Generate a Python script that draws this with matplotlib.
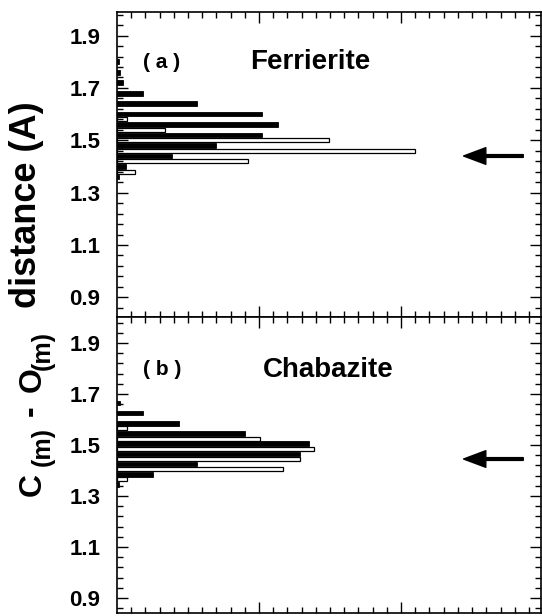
import numpy as np
import matplotlib
matplotlib.use("Agg")
import matplotlib.pyplot as plt

plt.rcParams['font.family'] = ['Liberation Sans', 'DejaVu Sans']
plt.rcParams['font.weight'] = 'bold'

# (a) Ferrierite: bin centres (A) and bar lengths
ferr_black_y = [1.80, 1.76, 1.72, 1.68, 1.64, 1.60, 1.56, 1.52, 1.48, 1.44, 1.40, 1.36]
ferr_black_x = [0.15, 0.2, 0.4, 1.8, 5.6, 10.2, 11.3, 10.2, 7.0, 3.9, 0.6, 0.15]
ferr_white_y = [1.58, 1.54, 1.50, 1.46, 1.42, 1.38]
ferr_white_x = [0.7, 3.4, 14.9, 21.0, 9.2, 1.3]

# (b) Chabazite
chab_black_y = [1.665, 1.625, 1.585, 1.545, 1.505, 1.465, 1.425, 1.385, 1.345]
chab_black_x = [0.2, 1.8, 4.4, 9.0, 13.5, 12.9, 5.6, 2.5, 0.15]
chab_white_y = [1.565, 1.525, 1.485, 1.445, 1.405, 1.365]
chab_white_x = [0.7, 10.1, 13.9, 12.9, 11.7, 0.7]

arrow_y = [1.44, 1.445]
y_ticks = [0.9, 1.1, 1.3, 1.5, 1.7, 1.9]
panels = [("( a )", "Ferrierite", ferr_black_y, ferr_black_x, ferr_white_y, ferr_white_x),
          ("( b )", "Chabazite", chab_black_y, chab_black_x, chab_white_y, chab_white_x)]

fig = plt.figure(figsize=(5.42, 6.16), dpi=100)
left, width = 117 / 542, 424 / 542
ax_top = fig.add_axes([left, 299 / 616, width, 305 / 616])
ax_bot = fig.add_axes([left, 3 / 616, width, 296 / 616])

ylims = [(0.825, 1.99), (0.841, 2.002)]
label_y = [0.836, 0.821]
name_x = [0.314, 0.344]
for i, (ax, (tag, name, by, bx, wy, wx)) in enumerate(zip([ax_top, ax_bot], panels)):
    ax.barh(by, bx, height=0.018, color='black', edgecolor='black', linewidth=0.6)
    ax.barh(wy, wx, height=0.016, color='white', edgecolor='black', linewidth=0.9)
    ax.set_xlim(0, 29.85)
    ax.set_ylim(*ylims[i])
    ax.set_yticks(y_ticks)
    ax.set_yticks(np.arange(0.86, 1.99, 0.04), minor=True)
    ax.set_xticks([10, 20])
    ax.set_xticks(np.arange(1, 30, 1), minor=True)
    ax.tick_params(which='both', direction='in', top=True, right=True, width=1.0)
    ax.tick_params(which='major', length=8, labelsize=16, pad=12)
    ax.tick_params(which='minor', length=4.5)
    ax.tick_params(axis='x', labelbottom=False)
    for s in ax.spines.values():
        s.set_linewidth(1.2)
    ax.text(0.062, label_y[i], tag, transform=ax.transAxes, fontsize=15, fontweight='bold', va='center')
    ax.text(name_x[i], label_y[i], name, transform=ax.transAxes,
            fontsize=20, fontweight='bold', va='center')
    ax.annotate('', xy=(24.4, arrow_y[i]), xytext=(28.6, arrow_y[i]),
                arrowprops=dict(facecolor='black', edgecolor='black', width=2,
                                headwidth=12, headlength=16))

# y label built from pieces so the (m) subscripts keep their large size
ylabel_parts = [("distance (A)", 27, 205, 26),
                ("O", 33, 380, 23),
                ("(m)", 43, 350, 18),
                ("-", 31, 411, 23),
                ("C", 33, 484, 23),
                ("(m)", 43, 447, 18)]
for txt, xp, yp, fs in ylabel_parts:
    fig.text(xp / 542, 1 - yp / 616, txt, rotation=90, fontsize=fs,
             fontweight='bold', ha='center', va='center')

fig.savefig('out.png', dpi=100)
